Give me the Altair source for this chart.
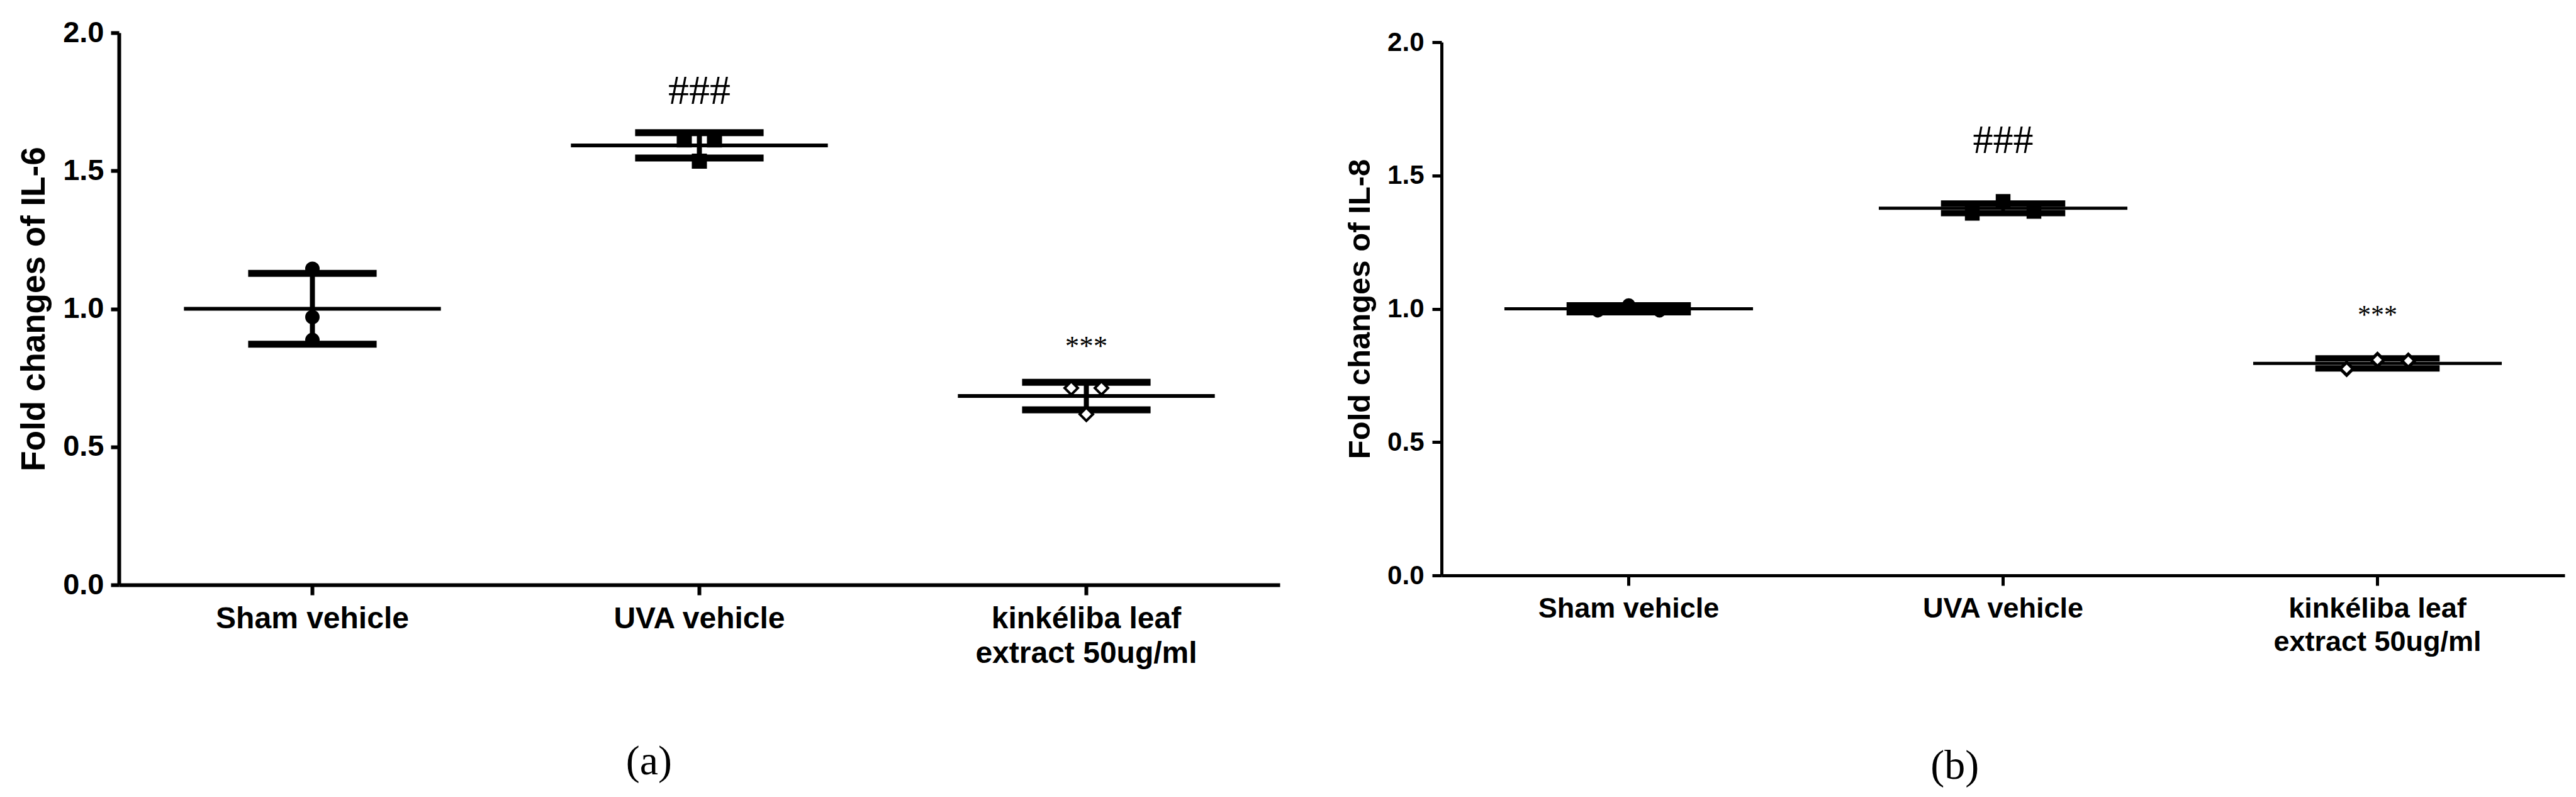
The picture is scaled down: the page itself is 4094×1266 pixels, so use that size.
import altair as alt
import pandas as pd

# ---------------- data ----------------
cats_a = ["Sham vehicle", "UVA vehicle", "kinkéliba leaf\nextract  50ug/ml"]
cats_b = ["Sham vehicle", "UVA vehicle", "kinkéliba leaf\nextract 50ug/ml"]

# (a) IL-6
il6_sham = [1.145, 0.970, 0.887]
il6_uva = [1.612, 1.612, 1.535]
il6_kink = [0.713, 0.713, 0.618]
il6_jitter = [[0, 0, 0], [-1, 1, 0], [-1, 1, 0]]
il6_mean = [1.000, 1.592, 0.684]
il6_sd = [0.128, 0.046, 0.050]
il6_sig = ["###", "***"]
il6_sig_y = [1.787, 0.886]

# (b) IL-8
il8_sham = [0.992, 1.015, 0.992]
il8_uva = [1.358, 1.403, 1.365]
il8_kink = [0.775, 0.808, 0.805]
il8_jitter = [[-1, 0, 1], [-1, 0, 1], [-1, 0, 1]]
il8_mean = [1.000, 1.377, 0.795]
il8_sd = [0.013, 0.018, 0.019]
il8_sig = ["###", "***"]
il8_sig_y = [1.629, 0.996]

y_ticks = [0, 0.5, 1.0, 1.5, 2.0]
shapes = ["circle", "square", "diamond"]
fills = ["black", "black", "white"]

SANS = "Liberation Sans"
SERIF = "Liberation Serif"


def panel(cats, groups, jit, means, sds, sig, sig_y, ytitle, label, st):
    W, H = st["W"], st["H"]
    step = W / 3.0
    summ = pd.DataFrame({"cat": cats, "mean": means, "sd": sds})
    summ["lo"] = summ["mean"] - summ["sd"]
    summ["hi"] = summ["mean"] + summ["sd"]
    rows = []
    for c, vals, js in zip(cats, groups, jit):
        for v, j in zip(vals, js):
            rows.append({"cat": c, "val": v, "j": j})
    pts = pd.DataFrame(rows)
    ann = pd.DataFrame({"cat": cats[1:], "lab": sig, "y": sig_y})

    xsc = alt.Scale(type="band", domain=cats, paddingInner=0, paddingOuter=0)
    xax = alt.Axis(
        title=None, labelAngle=0, labelExpr="split(datum.label, '\\n')",
        labelFont=SANS, labelFontWeight="bold", labelFontSize=st["lab"],
        labelLineHeight=st["lh"], labelColor="black", labelPadding=st["lpad"],
        labelLimit=0,
        tickSize=st["xtick"], tickWidth=st["tw"], tickColor="black",
        domainWidth=st["dw"], domainColor="black", grid=False,
    )
    ysc = alt.Scale(domain=[0, 2], nice=False, zero=True)
    yax = alt.Axis(
        title=ytitle, values=y_ticks, format=".1f", grid=False,
        labelFont=SANS, labelFontWeight="bold", labelFontSize=st["tick"],
        labelColor="black", labelPadding=st["ylpad"], labelFlush=False,
        labelOverlap=False,
        tickSize=st["ytick"], tickWidth=st["tw"], tickColor="black",
        domainWidth=st["dw"], domainColor="black",
        titleFont=SANS, titleFontWeight="bold", titleFontSize=st["title"],
        titleColor="black", titlePadding=st["tpad"],
    )
    X = alt.X("cat:N", scale=xsc, axis=xax, sort=cats)

    def Y(field):
        return alt.Y(field, type="quantitative", scale=ysc, axis=yax, title=ytitle)

    base_s = alt.Chart(summ)
    mean_line = base_s.mark_tick(color="black", opacity=1, size=step * 0.664,
                                 thickness=st["mt"]).encode(x=X, y=Y("mean"))
    cap_hi = base_s.mark_tick(color="black", opacity=1, size=step * 0.332,
                              thickness=st["ct"]).encode(x=X, y=Y("hi"))
    cap_lo = base_s.mark_tick(color="black", opacity=1, size=step * 0.332,
                              thickness=st["ct"]).encode(x=X, y=Y("lo"))
    bar = base_s.mark_rule(color="black", opacity=1, strokeWidth=st["vw"]).encode(
        x=X, y=Y("lo"), y2="hi")

    points = alt.Chart(pts).mark_point(
        stroke="black", strokeWidth=st["pw"], opacity=1, fillOpacity=1
    ).encode(
        x=X,
        xOffset=alt.XOffset("j:Q", scale=alt.Scale(
            domain=[-1, 1], range=[step / 2 - st["joff"], step / 2 + st["joff"]])),
        y=Y("val"),
        shape=alt.Shape("cat:N", scale=alt.Scale(domain=cats, range=shapes), legend=None),
        fill=alt.Fill("cat:N", scale=alt.Scale(domain=cats, range=fills), legend=None),
        size=alt.Size("cat:N", scale=alt.Scale(domain=cats, range=st["sizes"]), legend=None),
    )

    hashes = alt.Chart(ann[ann["lab"] == "###"]).mark_text(
        font=SERIF, fontSize=st["hfs"], baseline="middle", align="center", color="black"
    ).encode(x=X, y=Y("y"), text="lab:N")
    stars = alt.Chart(ann[ann["lab"] == "***"]).mark_text(
        font=SERIF, fontSize=st["sfs"], baseline="middle", align="center", color="black",
        dy=st["sfs"] * 0.22,
    ).encode(x=X, y=Y("y"), text="lab:N")

    return alt.layer(mean_line, cap_hi, cap_lo, bar, points, hashes, stars).properties(
        width=W, height=H,
        title=alt.TitleParams(text=label, orient="bottom", anchor="middle", frame="bounds",
                              font=SERIF, fontSize=66, fontWeight="normal",
                              color="black", offset=st["toff"]),
    )


st_a = dict(W=1845, H=877, lab=48, lh=55, lpad=14, xtick=16, tw=6, dw=6,
            tick=47, ylpad=11, ytick=13, title=53, tpad=18,
            mt=6, ct=11, vw=8, pw=4, joff=24, sizes=[361, 441, 324],
            hfs=66, sfs=45, toff=116)
st_b = dict(W=1785, H=847, lab=45, lh=53, lpad=14, xtick=16, tw=5, dw=5,
            tick=42, ylpad=13, ytick=15, title=49, tpad=18,
            mt=5, ct=10, vw=6, pw=5, joff=49, sizes=[256, 420, 576],
            hfs=64, sfs=42, toff=143)

pa = panel(cats_a, [il6_sham, il6_uva, il6_kink], il6_jitter, il6_mean, il6_sd,
           il6_sig, il6_sig_y, "Fold changes of IL-6", "(a)", st_a)
pb = panel(cats_b, [il8_sham, il8_uva, il8_kink], il8_jitter, il8_mean, il8_sd,
           il8_sig, il8_sig_y, "Fold changes of IL-8", "(b)", st_b)

chart = alt.hconcat(pa, pb, spacing=257, bounds="flush", center=True).resolve_scale(
    shape="independent", fill="independent", size="independent",
    xOffset="independent", x="independent", y="independent",
).properties(
    padding={"left": 20, "top": 20, "right": 5, "bottom": 5},
    background="white",
).configure_view(stroke=None)

chart.save("out.html", embed_options={"renderer": "svg", "actions": False})
